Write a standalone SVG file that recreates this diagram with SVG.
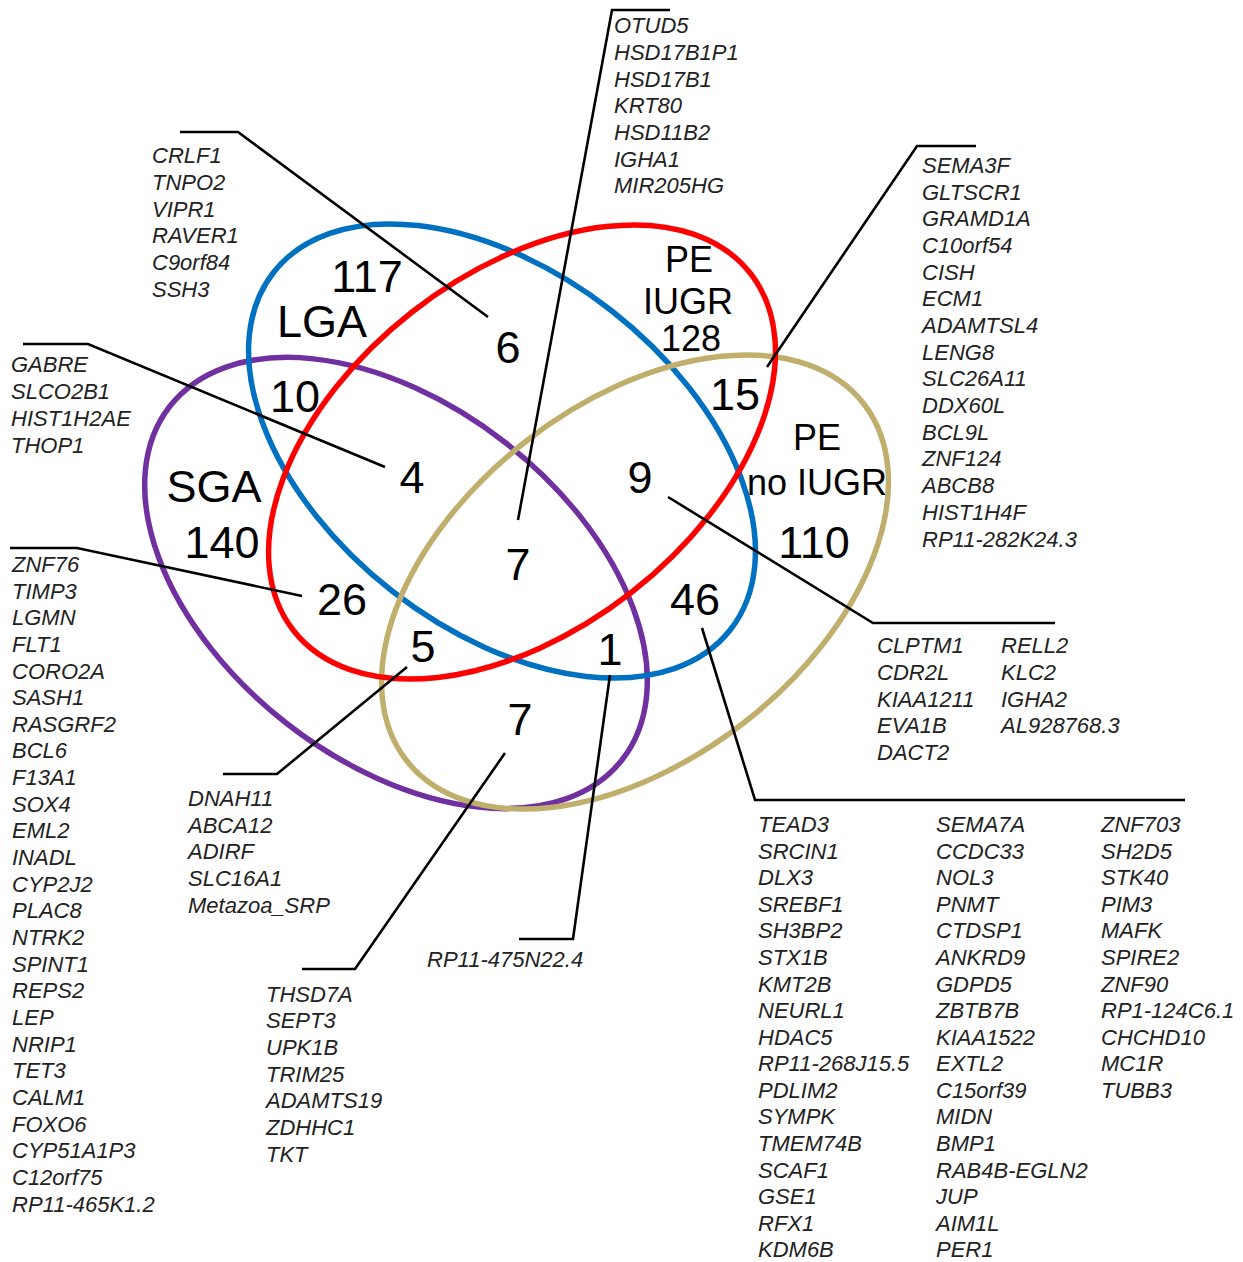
<svg xmlns="http://www.w3.org/2000/svg" width="1243" height="1262" viewBox="0 0 1243 1262">
  <style>
    .set { fill: none; stroke-width: 5.5; }
    .num { font-family: "Liberation Sans", Arial, sans-serif; font-size: 45px; fill: #000; text-anchor: middle; }
    .lbl { font-family: "Liberation Sans", Arial, sans-serif; font-size: 45px; fill: #000; text-anchor: middle; }
    .lbl2 { font-family: "Liberation Sans", Arial, sans-serif; font-size: 36px; fill: #000; text-anchor: middle; }
    .gene { font-family: "Liberation Sans", Arial, sans-serif; font-size: 22px; font-style: italic; fill: #222; }
    .lead { fill: none; stroke: #000; stroke-width: 2.6; stroke-linejoin: miter; }
  </style>

  <!-- sets -->
  <g id="set-sga">
    <ellipse class="set" cx="396" cy="583" rx="287" ry="178" transform="rotate(38 396 583)" stroke="#7030A0"/>
  </g>
  <g id="set-lga">
    <ellipse class="set" cx="502" cy="451" rx="290" ry="178" transform="rotate(38 502 451)" stroke="#0070C0"/>
  </g>
  <g id="set-pe-no-iugr">
    <ellipse class="set" cx="635" cy="582" rx="290" ry="178" transform="rotate(-38 635 582)" stroke="#C0AF6C"/>
  </g>
  <g id="set-pe-iugr">
    <ellipse class="set" cx="522" cy="452" rx="290" ry="178" transform="rotate(-38 522 452)" stroke="#FF0000"/>
  </g>

  <!-- leader lines from regions to gene lists -->
  <g id="connectors">
    <path class="lead" d="M180,132 H238 L488,317"/>
    <path class="lead" d="M23,344 H88 L385,467"/>
    <path class="lead" d="M670,10 H612 L518,520"/>
    <path class="lead" d="M976,146 H917 L767,367"/>
    <path class="lead" d="M10,548 H77 L302,596"/>
    <path class="lead" d="M223,774 H277 L407,667"/>
    <path class="lead" d="M302,969 H355 L505,753"/>
    <path class="lead" d="M519,939 H573 L610,675"/>
    <path class="lead" d="M702,628 L755,800 H1185"/>
    <path class="lead" d="M668,497 L873,623 H1055"/>
  </g>

  <!-- set names and region counts -->
  <g id="labels">
    <text class="lbl" x="322" y="337">LGA</text>
    <text class="lbl" x="214" y="502">SGA</text>
    <text class="lbl2" x="689" y="272">PE</text>
    <text class="lbl2" x="688" y="314">IUGR</text>
    <text class="lbl2" x="691" y="351">128</text>
    <text class="lbl2" x="817" y="450">PE</text>
    <text class="lbl2" x="817" y="495">no IUGR</text>
    <text class="num" x="367" y="292">117</text>
    <text class="num" x="222" y="558">140</text>
    <text class="num" x="814" y="558">110</text>
    <text class="num" x="508" y="363">6</text>
    <text class="num" x="295" y="412">10</text>
    <text class="num" x="412" y="493">4</text>
    <text class="num" x="342" y="615">26</text>
    <text class="num" x="423" y="662">5</text>
    <text class="num" x="518" y="580">7</text>
    <text class="num" x="520" y="735">7</text>
    <text class="num" x="610" y="665">1</text>
    <text class="num" x="695" y="615">46</text>
    <text class="num" x="640" y="493">9</text>
    <text class="num" x="735" y="410">15</text>
  </g>

  <!-- gene lists -->
  <g id="genes-lga-pe-iugr" class="gene">
    <text x="152" y="163">CRLF1</text>
    <text x="152" y="190">TNPO2</text>
    <text x="152" y="217">VIPR1</text>
    <text x="152" y="243">RAVER1</text>
    <text x="152" y="270">C9orf84</text>
    <text x="152" y="297">SSH3</text>
  </g>
  <g id="genes-lga-sga-pe-iugr" class="gene">
    <text x="11" y="372">GABRE</text>
    <text x="11" y="399">SLCO2B1</text>
    <text x="11" y="426">HIST1H2AE</text>
    <text x="11" y="453">THOP1</text>
  </g>
  <g id="genes-all" class="gene">
    <text x="614" y="33">OTUD5</text>
    <text x="614" y="60">HSD17B1P1</text>
    <text x="614" y="87">HSD17B1</text>
    <text x="614" y="113">KRT80</text>
    <text x="614" y="140">HSD11B2</text>
    <text x="614" y="167">IGHA1</text>
    <text x="614" y="193">MIR205HG</text>
  </g>
  <g id="genes-iugr-no-iugr" class="gene">
    <text x="922" y="173">SEMA3F</text>
    <text x="922" y="200">GLTSCR1</text>
    <text x="922" y="226">GRAMD1A</text>
    <text x="922" y="253">C10orf54</text>
    <text x="922" y="280">CISH</text>
    <text x="922" y="306">ECM1</text>
    <text x="922" y="333">ADAMTSL4</text>
    <text x="922" y="360">LENG8</text>
    <text x="922" y="386">SLC26A11</text>
    <text x="922" y="413">DDX60L</text>
    <text x="922" y="440">BCL9L</text>
    <text x="922" y="466">ZNF124</text>
    <text x="922" y="493">ABCB8</text>
    <text x="922" y="520">HIST1H4F</text>
    <text x="922" y="547">RP11-282K24.3</text>
  </g>
  <g id="genes-sga-pe-iugr" class="gene">
    <text x="12" y="572">ZNF76</text>
    <text x="12" y="599">TIMP3</text>
    <text x="12" y="625">LGMN</text>
    <text x="12" y="652">FLT1</text>
    <text x="12" y="679">CORO2A</text>
    <text x="12" y="705">SASH1</text>
    <text x="12" y="732">RASGRF2</text>
    <text x="12" y="758">BCL6</text>
    <text x="12" y="785">F13A1</text>
    <text x="12" y="812">SOX4</text>
    <text x="12" y="838">EML2</text>
    <text x="12" y="865">INADL</text>
    <text x="12" y="892">CYP2J2</text>
    <text x="12" y="918">PLAC8</text>
    <text x="12" y="945">NTRK2</text>
    <text x="12" y="972">SPINT1</text>
    <text x="12" y="998">REPS2</text>
    <text x="12" y="1025">LEP</text>
    <text x="12" y="1052">NRIP1</text>
    <text x="12" y="1078">TET3</text>
    <text x="12" y="1105">CALM1</text>
    <text x="12" y="1132">FOXO6</text>
    <text x="12" y="1158">CYP51A1P3</text>
    <text x="12" y="1185">C12orf75</text>
    <text x="12" y="1212">RP11-465K1.2</text>
  </g>
  <g id="genes-sga-pe-iugr-no-iugr" class="gene">
    <text x="188" y="806">DNAH11</text>
    <text x="188" y="833">ABCA12</text>
    <text x="188" y="859">ADIRF</text>
    <text x="188" y="886">SLC16A1</text>
    <text x="188" y="913">Metazoa_SRP</text>
  </g>
  <g id="genes-sga-no-iugr" class="gene">
    <text x="266" y="1002">THSD7A</text>
    <text x="266" y="1028">SEPT3</text>
    <text x="266" y="1055">UPK1B</text>
    <text x="266" y="1082">TRIM25</text>
    <text x="266" y="1108">ADAMTS19</text>
    <text x="266" y="1135">ZDHHC1</text>
    <text x="266" y="1162">TKT</text>
  </g>
  <g id="genes-lga-sga-no-iugr" class="gene">
    <text x="427" y="967">RP11-475N22.4</text>
  </g>
  <g id="genes-lga-iugr-no-iugr" class="gene">
    <text x="877" y="653">CLPTM1</text>
    <text x="877" y="680">CDR2L</text>
    <text x="877" y="707">KIAA1211</text>
    <text x="877" y="733">EVA1B</text>
    <text x="877" y="760">DACT2</text>
    <text x="1001" y="653">RELL2</text>
    <text x="1001" y="680">KLC2</text>
    <text x="1001" y="707">IGHA2</text>
    <text x="1001" y="733">AL928768.3</text>
  </g>
  <g id="genes-lga-no-iugr" class="gene">
    <text x="758" y="832">TEAD3</text>
    <text x="758" y="859">SRCIN1</text>
    <text x="758" y="885">DLX3</text>
    <text x="758" y="912">SREBF1</text>
    <text x="758" y="938">SH3BP2</text>
    <text x="758" y="965">STX1B</text>
    <text x="758" y="992">KMT2B</text>
    <text x="758" y="1018">NEURL1</text>
    <text x="758" y="1045">HDAC5</text>
    <text x="758" y="1071">RP11-268J15.5</text>
    <text x="758" y="1098">PDLIM2</text>
    <text x="758" y="1124">SYMPK</text>
    <text x="758" y="1151">TMEM74B</text>
    <text x="758" y="1178">SCAF1</text>
    <text x="758" y="1204">GSE1</text>
    <text x="758" y="1231">RFX1</text>
    <text x="758" y="1257">KDM6B</text>
    <text x="936" y="832">SEMA7A</text>
    <text x="936" y="859">CCDC33</text>
    <text x="936" y="885">NOL3</text>
    <text x="936" y="912">PNMT</text>
    <text x="936" y="938">CTDSP1</text>
    <text x="936" y="965">ANKRD9</text>
    <text x="936" y="992">GDPD5</text>
    <text x="936" y="1018">ZBTB7B</text>
    <text x="936" y="1045">KIAA1522</text>
    <text x="936" y="1071">EXTL2</text>
    <text x="936" y="1098">C15orf39</text>
    <text x="936" y="1124">MIDN</text>
    <text x="936" y="1151">BMP1</text>
    <text x="936" y="1178">RAB4B-EGLN2</text>
    <text x="936" y="1204">JUP</text>
    <text x="936" y="1231">AIM1L</text>
    <text x="936" y="1257">PER1</text>
    <text x="1101" y="832">ZNF703</text>
    <text x="1101" y="859">SH2D5</text>
    <text x="1101" y="885">STK40</text>
    <text x="1101" y="912">PIM3</text>
    <text x="1101" y="938">MAFK</text>
    <text x="1101" y="965">SPIRE2</text>
    <text x="1101" y="992">ZNF90</text>
    <text x="1101" y="1018">RP1-124C6.1</text>
    <text x="1101" y="1045">CHCHD10</text>
    <text x="1101" y="1071">MC1R</text>
    <text x="1101" y="1098">TUBB3</text>
  </g>
</svg>
